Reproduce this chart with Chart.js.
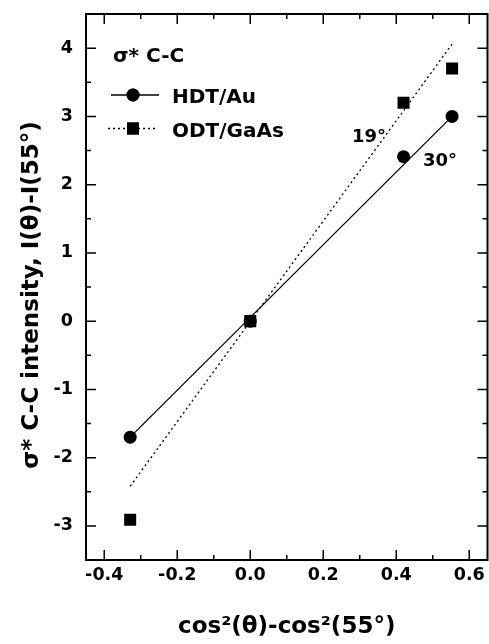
<!DOCTYPE html>
<html>
<head>
<meta charset="utf-8">
<script src="https://cdn.jsdelivr.net/npm/chart.js@4"></script>
<style>
  html, body { margin: 0; padding: 0; background: #fff; }
  canvas { display: block; }
</style>
</head>
<body>
<canvas id="chart" width="489" height="644"></canvas>
<script>
// cos²(θ)-cos²(55°) for θ = 90°, 55°, 30°, 19°
const xValues = [-0.329, 0, 0.42, 0.553];
const hdtAu = [-1.70, 0, 2.41, 3.00];
const odtGaAs = [-2.91, 0, 3.20, 3.70];

// linear fits, drawn between the end points
const fitX = [-0.329, 0.553];
const hdtFit = [-1.70, 3.00];
const odtFit = [-2.42, 4.06];

const xTickLabels = ['-0.4', '-0.2', '0.0', '0.2', '0.4', '0.6'];
const yTickLabels = ['-3', '-2', '-1', '0', '1', '2', '3', '4'];

const FONT = "'DejaVu Sans', Verdana, sans-serif";

function labelFor(list, v) {
    const hit = list.find(t => Math.abs(parseFloat(t) - v) < 1e-6);
    return hit === undefined ? '' : hit;
}

function isMajor(list, v) {
    return list.some(t => Math.abs(parseFloat(t) - v) < 1e-6);
}

// major ticks from the label list plus a minor one halfway between each pair
function buildTicks(list) {
    const vals = list.map(parseFloat);
    const out = [];
    vals.forEach((v, i) => {
        out.push(v);
        if (i < vals.length - 1) out.push((v + vals[i + 1]) / 2);
    });
    return out.map(v => ({ value: Math.round(v * 1000) / 1000 }));
}

// frame + inward ticks on all four sides, like the original plot
const framePlugin = {
    id: 'frame',
    afterDatasetsDraw(chart) {
        const ctx = chart.ctx;
        const a = chart.chartArea;
        const xs = chart.scales.x, ys = chart.scales.y;
        ctx.save();
        ctx.strokeStyle = '#000';
        ctx.lineWidth = 1.5;
        ctx.beginPath();
        xs.ticks.forEach(t => {
            const px = xs.getPixelForValue(t.value);
            const len = isMajor(xTickLabels, t.value) ? 10 : 5;
            ctx.moveTo(px, a.bottom); ctx.lineTo(px, a.bottom - len);
            ctx.moveTo(px, a.top); ctx.lineTo(px, a.top + len);
        });
        ys.ticks.forEach(t => {
            const py = ys.getPixelForValue(t.value);
            const len = isMajor(yTickLabels, t.value) ? 10 : 5;
            ctx.moveTo(a.left, py); ctx.lineTo(a.left + len, py);
            ctx.moveTo(a.right, py); ctx.lineTo(a.right - len, py);
        });
        ctx.stroke();
        ctx.lineWidth = 2;
        ctx.strokeRect(a.left, a.top, a.right - a.left, a.bottom - a.top);
        ctx.restore();
    }
};

// legend, annotations and axis titles
const textPlugin = {
    id: 'texts',
    afterDraw(chart) {
        const ctx = chart.ctx;
        const a = chart.chartArea;
        const dp = Chart.helpers.drawPoint;
        ctx.save();
        ctx.fillStyle = '#000';
        ctx.strokeStyle = '#000';
        ctx.textBaseline = 'alphabetic';

        // legend
        ctx.font = 'bold 20px ' + FONT;
        ctx.fillText('σ* C-C', 113, 62);
        ctx.lineWidth = 1.3;
        ctx.beginPath(); ctx.moveTo(111, 95); ctx.lineTo(159, 95); ctx.stroke();
        dp(ctx, { pointStyle: 'circle', radius: 6.5, rotation: 0, borderWidth: 0 }, 133, 95);
        ctx.fill();
        ctx.fillText('HDT/Au', 172, 103);
        ctx.setLineDash([2, 3]);
        ctx.beginPath(); ctx.moveTo(108, 128.5); ctx.lineTo(158, 128.5); ctx.stroke();
        ctx.setLineDash([]);
        dp(ctx, { pointStyle: 'rect', radius: 8.5, rotation: 0, borderWidth: 0 }, 133, 128.5);
        ctx.fill();
        ctx.fillText('ODT/GaAs', 172, 137);

        // angle annotations
        ctx.font = 'bold 18px ' + FONT;
        ctx.fillText('19°', 352, 142);
        ctx.fillText('30°', 423, 166);

        // x title
        ctx.font = 'bold 23px ' + FONT;
        ctx.textAlign = 'center';
        ctx.fillText('cos²(θ)-cos²(55°)', (a.left + a.right) / 2, 633);

        // y title
        ctx.translate(38, 295);
        ctx.rotate(-Math.PI / 2);
        ctx.fillText('σ* C-C intensity, I(θ)-I(55°)', 0, 0);
        ctx.restore();
    }
};

const tickFont = { family: FONT, size: 17.5, weight: 'bold' };

new Chart(document.getElementById('chart').getContext('2d'), {
    type: 'scatter',
    data: {
        datasets: [
            {
                label: 'HDT/Au',
                data: xValues.map((x, i) => ({ x: x, y: hdtAu[i] })),
                pointStyle: 'circle',
                pointRadius: 6.5,
                backgroundColor: '#000',
                borderColor: '#000',
                borderWidth: 0
            },
            {
                label: 'ODT/GaAs',
                data: xValues.map((x, i) => ({ x: x, y: odtGaAs[i] })),
                pointStyle: 'rect',
                pointRadius: 8.5,
                backgroundColor: '#000',
                borderColor: '#000',
                borderWidth: 0
            },
            {
                label: 'HDT/Au fit',
                data: fitX.map((x, i) => ({ x: x, y: hdtFit[i] })),
                showLine: true,
                pointRadius: 0,
                borderColor: '#000',
                borderWidth: 1.3,
                fill: false
            },
            {
                label: 'ODT/GaAs fit',
                data: fitX.map((x, i) => ({ x: x, y: odtFit[i] })),
                showLine: true,
                pointRadius: 0,
                borderColor: '#000',
                borderWidth: 1.3,
                borderDash: [2, 3],
                fill: false
            }
        ]
    },
    options: {
        responsive: false,
        animation: false,
        events: [],
        layout: {
            autoPadding: false,
            padding: { top: 14, right: 1.5, left: 0, bottom: 0 }
        },
        plugins: {
            legend: { display: false },
            tooltip: { enabled: false }
        },
        scales: {
            x: {
                type: 'linear',
                min: -0.45,
                max: 0.65,
                afterBuildTicks(s) { s.ticks = buildTicks(xTickLabels); },
                afterFit(s) {
                    s.height = 84;
                    s.paddingLeft = 0;
                    s.paddingRight = 0;
                },
                grid: { display: false, drawTicks: false },
                border: { display: false },
                ticks: {
                    autoSkip: false,
                    maxRotation: 0,
                    padding: 5,
                    color: '#000',
                    font: tickFont,
                    callback: v => labelFor(xTickLabels, v)
                }
            },
            y: {
                type: 'linear',
                min: -3.5,
                max: 4.5,
                afterBuildTicks(s) { s.ticks = buildTicks(yTickLabels); },
                afterFit(s) {
                    s.width = 86;
                    s.paddingTop = 0;
                    s.paddingBottom = 0;
                },
                grid: { display: false, drawTicks: false },
                border: { display: false },
                ticks: {
                    autoSkip: false,
                    padding: 13,
                    color: '#000',
                    font: tickFont,
                    callback: v => labelFor(yTickLabels, v)
                }
            }
        }
    },
    plugins: [framePlugin, textPlugin]
});
</script>
</body>
</html>
